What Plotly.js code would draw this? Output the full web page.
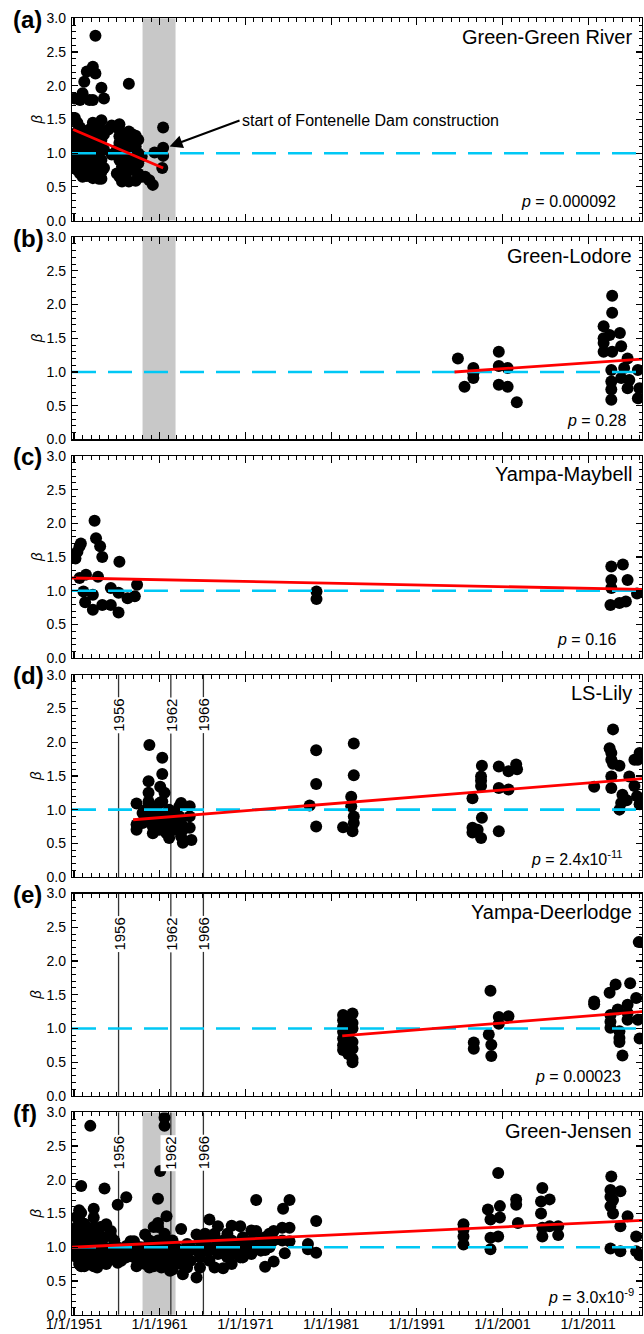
<!DOCTYPE html>
<html>
<head>
<meta charset="utf-8">
<script src="https://cdn.plot.ly/plotly-3.0.1.min.js"></script>
<style>html,body{margin:0;padding:0;background:#fff;}#chart{width:644px;height:1334px;}</style>
</head>
<body>
<div id="chart"></div>
<script>
// ---------------- DATA (decimal year, beta values observed in that year) ----------------
const panelLabels = ['(a)', '(b)', '(c)', '(d)', '(e)', '(f)'];
const siteNames = ['Green-Green River', 'Green-Lodore', 'Yampa-Maybell', 'LS-Lily', 'Yampa-Deerlodge', 'Green-Jensen'];
const pTexts = ['<i>p</i> = 0.000092', '<i>p</i> = 0.28', '<i>p</i> = 0.16',
  '<i>p</i> = 2.4x10<sup>-11</sup>', '<i>p</i> = 0.00023', '<i>p</i> = 3.0x10<sup>-9</sup>'];

const obsA = [
  [1951.1, [1.52, 1.81, 1.18, 1.05, 0.95, 0.80, 0.78, 1.28]],
  [1951.4, [1.12, 0.86, 1.32, 0.75, 1.00, 1.45]],
  [1951.7, [1.79, 1.20, 0.90, 0.70, 1.38]],
  [1952.0, [1.89, 1.15, 0.65, 0.95, 1.30, 0.80]],
  [1952.2, [2.06, 1.05, 0.72]],
  [1952.5, [2.21, 1.22, 0.88, 0.66]],
  [1952.8, [1.79, 1.35, 0.68, 1.00, 1.18]],
  [1953.2, [2.28, 1.79, 1.45, 1.10, 0.85, 0.63, 0.75]],
  [1953.5, [2.74, 2.18, 1.25, 0.95, 0.70]],
  [1953.9, [1.30, 1.02, 0.62, 0.82, 1.15, 1.42]],
  [1954.2, [1.97, 1.49, 1.20, 0.90, 0.62, 0.72]],
  [1954.5, [1.81, 1.28, 1.05, 0.78]],
  [1955.0, [1.35]],
  [1955.4, [1.41, 0.98]],
  [1956.0, [1.38, 0.70, 1.05]],
  [1956.3, [1.43, 1.15, 0.65, 0.90, 1.25]],
  [1956.6, [1.00, 0.58, 0.80, 1.30]],
  [1957.0, [1.20, 0.70, 1.10, 0.95]],
  [1957.4, [2.03, 1.32, 0.58, 0.85, 1.05, 1.25]],
  [1957.8, [1.15, 0.75, 0.95, 1.28]],
  [1958.2, [1.26, 0.59, 0.90, 1.10]],
  [1958.5, [1.20, 0.70, 1.00, 0.85]],
  [1958.9, [0.95, 0.65]],
  [1959.3, [0.65]],
  [1959.8, [0.60]],
  [1960.2, [0.53]],
  [1960.4, [1.01]],
  [1961.3, [0.78]],
  [1961.4, [1.38, 1.08, 0.96]]
];

const obsB = [
  [1995.8, [1.20]], [1996.57, [0.78]], [1997.6, [1.06, 0.98, 0.91]],
  [2000.57, [1.30, 1.09, 0.81]], [2001.6, [1.06, 0.78]], [2002.67, [0.55]],
  [2012.8, [1.68, 1.50, 1.43, 1.30]], [2013.5, [1.55]], [2013.8, [2.13, 1.88, 1.30]],
  [2013.7, [1.03, 0.86, 0.74, 0.59]], [2014.7, [1.58]], [2014.85, [1.38, 0.91]],
  [2015.2, [1.06]], [2015.6, [1.20, 0.76]], [2015.8, [0.88]],
  [2016.8, [1.03, 0.61]], [2016.98, [0.76]]
];

const obsC = [
  [1951.17, [1.48]], [1951.4, [1.58]], [1951.65, [1.66, 1.19]], [1951.8, [1.70]],
  [1952.1, [0.99]], [1952.3, [0.83]], [1952.4, [1.24]],
  [1953.2, [0.72, 0.94]], [1953.4, [2.04]], [1953.57, [1.78]], [1953.8, [1.21]],
  [1954.05, [1.66]], [1954.3, [1.50, 0.79]], [1955.3, [1.04, 0.79]],
  [1956.2, [0.97, 0.68]], [1956.3, [1.43]], [1957.25, [0.89]], [1958.1, [0.92]], [1958.36, [1.09]],
  [1979.3, [0.99, 0.88]],
  [2013.7, [1.36, 1.16, 1.04]], [2013.6, [0.79]], [2014.65, [0.82]], [2015.05, [1.39]],
  [2015.4, [0.84]], [2015.6, [1.16]], [2016.7, [0.96]]
];

const obsD = [
  [1958.3, [1.09, 0.78, 0.70]], [1959.0, [0.95, 0.80]], [1959.4, [0.90, 1.00]],
  [1959.7, [1.42, 1.25, 1.12, 1.05, 0.85]], [1959.8, [1.96]],
  [1960.2, [0.65, 0.95, 0.75]], [1960.6, [0.85, 1.00, 0.70]], [1961.0, [0.70, 0.90, 1.10]],
  [1961.06, [1.34]], [1961.3, [1.77, 1.53, 1.12]], [1961.56, [1.25, 0.80]],
  [1961.8, [0.75, 0.95, 0.65]], [1962.1, [0.58, 0.85, 1.00]], [1962.5, [0.95, 0.78]],
  [1962.7, [0.70, 0.88]], [1963.3, [0.90, 1.05]], [1963.5, [1.10, 0.60, 0.80]],
  [1963.7, [0.51, 0.70]], [1964.5, [1.05, 0.73, 0.90]], [1964.7, [0.55]],
  [1978.5, [1.06]], [1979.26, [1.88, 1.38, 0.75]],
  [1982.4, [0.74]], [1983.35, [1.19, 1.05]], [1983.5, [0.68]], [1983.65, [1.98, 1.51, 0.90, 0.80]],
  [1997.5, [1.17, 0.73, 0.66]], [1998.1, [0.70]], [1998.5, [1.49, 1.43, 1.35, 0.58]], [1998.6, [1.65, 0.88]],
  [2000.57, [1.64, 1.32, 0.68]], [2001.7, [1.57, 1.30]], [2002.6, [1.67]], [2002.7, [1.60]],
  [2011.7, [1.34]], [2013.7, [1.84, 1.74, 1.49, 1.32]], [2013.9, [2.19, 1.68]], [2013.5, [1.91]],
  [2014.65, [1.65, 1.00]], [2014.85, [1.10]], [2015.0, [1.22]], [2015.5, [1.14]],
  [2015.8, [1.49]], [2016.4, [1.74, 1.35]], [2016.7, [1.20]], [2016.8, [1.74]], [2017.0, [1.84, 1.08]]
];

const obsE = [
  [1982.4, [1.20, 1.12, 1.02, 0.95, 0.85, 0.75, 0.68]],
  [1983.0, [1.15, 0.90, 0.62]],
  [1983.5, [1.22, 1.08, 1.00, 0.80, 0.70, 0.55, 0.50]],
  [1997.65, [0.79, 0.70]], [1999.4, [0.91]], [1999.6, [1.56]], [1999.7, [0.76, 0.59]],
  [2000.57, [1.17, 1.07]], [2001.7, [1.18]],
  [2011.7, [1.40, 1.36]], [2013.5, [1.53]], [2013.6, [1.20, 1.10, 1.01]], [2014.2, [1.65]],
  [2014.45, [1.28]], [2014.65, [0.96, 0.86, 0.80]], [2015.0, [0.60]],
  [2015.6, [1.35, 1.23, 1.13]], [2015.9, [1.67]], [2016.6, [1.45]], [2016.8, [1.13]],
  [2016.9, [2.28]], [2017.0, [0.85]]
];

const obsF = [
  [1951.0, [0.98, 1.05, 1.20]], [1951.3, [0.85, 1.10, 1.30, 1.45, 1.00]],
  [1951.6, [0.75, 0.95, 1.18, 1.42, 1.55]], [1951.84, [1.91, 1.51, 1.25, 0.90, 0.72]],
  [1952.2, [0.72, 1.05, 1.35, 0.85]], [1952.5, [0.80, 1.15, 1.00, 1.28]],
  [1952.9, [2.80, 0.95, 0.75, 1.20]], [1953.3, [1.57, 1.44, 0.72, 1.10, 0.90, 1.30]],
  [1953.7, [1.20, 0.85, 1.00, 0.70]], [1954.1, [1.30, 0.95, 0.80, 1.12]],
  [1954.56, [1.87, 1.15, 0.85, 1.00]], [1954.76, [1.34, 0.75]],
  [1955.3, [1.24, 1.17, 0.95, 0.82]], [1955.7, [1.05, 0.88, 1.10]],
  [1956.1, [1.63, 0.77, 1.00, 0.90]], [1956.5, [0.80, 0.95]],
  [1957.1, [1.74, 0.85, 1.02]], [1957.6, [1.09, 0.95, 0.90]], [1958.0, [1.09, 0.85]],
  [1958.3, [0.72, 0.92]], [1958.8, [1.00, 0.80, 0.90]], [1959.3, [1.19, 0.85, 0.95, 0.75]],
  [1959.8, [0.70, 1.00, 1.10, 0.88]], [1960.3, [1.30, 0.95, 0.80, 0.72]],
  [1960.8, [1.72, 1.36, 1.30, 1.10, 0.85, 0.95]], [1961.06, [2.13, 1.00, 0.78]],
  [1961.2, [0.70, 0.90]], [1961.56, [2.92, 2.80, 1.20, 0.95]], [1961.8, [1.46, 1.05, 0.85]],
  [1962.2, [0.75, 0.95, 0.65]], [1962.5, [0.67, 0.88, 1.10]], [1962.9, [0.80, 1.00]],
  [1963.5, [1.27, 0.95, 0.75]], [1963.7, [0.60, 0.85]], [1964.2, [0.90, 1.05, 0.70]],
  [1964.6, [1.00, 0.80]], [1965.3, [1.19, 0.55, 0.95]], [1965.7, [1.10, 0.85, 0.70]],
  [1966.3, [1.20, 0.95, 1.05]], [1966.8, [1.41, 1.15, 0.80, 0.95]],
  [1967.4, [0.70, 1.00, 1.20]], [1967.8, [1.31, 0.90, 1.05]], [1968.4, [0.69, 0.95, 1.10]],
  [1968.9, [1.00, 0.85, 1.20]], [1969.4, [1.32, 0.75, 0.95, 1.10]], [1970.0, [0.90, 1.05]],
  [1970.4, [1.31, 0.85, 1.00]], [1970.7, [0.85, 1.15]], [1971.2, [0.95, 1.05]],
  [1971.7, [1.25, 1.10, 0.90]], [1972.26, [1.70, 1.24, 1.00]], [1972.8, [0.95, 1.10]],
  [1973.3, [0.96, 0.71, 1.15]], [1973.8, [1.00, 1.20]], [1974.3, [1.24, 0.79, 1.10]],
  [1975.3, [1.29, 1.10]], [1975.4, [1.57]], [1975.6, [0.91]], [1976.15, [1.70, 1.29, 1.09]],
  [1978.3, [1.05, 0.97]], [1979.26, [1.39, 0.92]],
  [1996.45, [1.34, 1.26, 1.16, 1.04]], [1999.3, [1.56]], [1999.6, [1.41, 1.14, 0.97]],
  [2000.5, [2.10, 1.16]], [2000.7, [1.61, 1.44]], [2002.6, [1.71, 1.63]], [2002.8, [1.36]],
  [2005.5, [1.68, 1.50]], [2005.65, [1.88, 1.29, 1.16]], [2006.5, [1.71, 1.31]],
  [2007.5, [1.31, 1.18]], [2013.6, [1.85, 1.75, 1.61, 0.98]], [2013.7, [2.05]],
  [2013.9, [1.70, 1.50]], [2014.76, [1.83, 1.31, 0.94]], [2015.6, [1.46]],
  [2016.6, [1.16, 0.94]], [2017.0, [0.88]]
];

// fitted trend lines (start/end year and beta)
const trendYears = [[1950.9, 1961.4], [1995.4, 2017.3], [1950.7, 2017.3], [1957.9, 2017.3], [1982.3, 2017.3], [1950.7, 2017.3]];
const trendBeta  = [[1.35, 0.78], [1.00, 1.19], [1.19, 1.02], [0.85, 1.46], [0.89, 1.25], [1.00, 1.40]];

const refBeta = 1.0;                         // dashed reference level
const damPeriod = [1959.0, 1962.85];         // shaded construction period
const shadedPanels = [0, 1, 5];
const markerYears = [1956.2, 1962.3, 1966.1];
const markerYearLabels = ['1956', '1962', '1966'];
const markerPanels = [3, 4, 5];
const xRange = [1950.767, 2017.28];
const yRange = [0, 3];
const arrowTarget = [1962.15, 1.10];
const arrowText = 'start of Fontenelle Dam construction';

// ---------------- helpers ----------------
function dy(v) {
  const y = Math.floor(v), f = v - y;
  const s = Date.UTC(y, 0, 1), e = Date.UTC(y + 1, 0, 1);
  return new Date(s + f * (e - s)).toISOString().slice(0, 19).replace('T', ' ');
}
function expand(obs) {
  const x = [], y = [];
  obs.forEach(([yr, vals]) => vals.forEach(v => { x.push(dy(yr)); y.push(v); }));
  return { x, y };
}

const FONT = 'Liberation Sans, Arial, Helvetica, sans-serif';
const allObs = [obsA, obsB, obsC, obsD, obsE, obsF];
const H = 1334, MT = 18, MB = 18.5, PLOT_H = H - MT - MB;
const TOP0 = 18.3, PANEL_H = 202.4, STEP = 218.9;

const data = [], shapes = [], annotations = [];
const layout = {
  width: 644, height: 1334,
  margin: { l: 72, r: 2, t: MT, b: MB },
  paper_bgcolor: '#fff', plot_bgcolor: '#fff',
  showlegend: false,
  font: { family: FONT, color: '#000', size: 14 }
};

for (let i = 0; i < 6; i++) {
  const sfx = i === 0 ? '' : String(i + 1);
  const xa = 'x' + sfx, ya = 'y' + sfx;
  const top = TOP0 + i * STEP, bot = top + PANEL_H;
  const d0 = Math.max(0, 1 - (bot - MT) / PLOT_H), d1 = Math.min(1, 1 - (top - MT) / PLOT_H);

  layout['xaxis' + sfx] = {
    type: 'date', range: [dy(xRange[0]), dy(xRange[1])], anchor: ya,
    showline: true, linecolor: '#000', linewidth: 1.2, mirror: 'allticks',
    ticks: 'inside', ticklen: 7, tickwidth: 1.2, tickcolor: '#000',
    tick0: '1951-01-01', dtick: 'M120', tickformat: '%-m/%-d/%Y',
    minor: { ticks: 'inside', dtick: 'M12', tick0: '1951-01-01', ticklen: 4, tickwidth: 1, tickcolor: '#000' },
    showticklabels: i === 5, tickfont: { size: 14.5, family: FONT }, ticklabelstandoff: -4,
    showgrid: false, zeroline: false, fixedrange: true
  };
  if (i > 0) layout['xaxis' + sfx].matches = 'x';
  layout['yaxis' + sfx] = {
    domain: [d0, d1], range: yRange, anchor: xa,
    showline: true, linecolor: '#000', linewidth: 1.2, mirror: 'allticks',
    ticks: 'inside', ticklen: 6, tickwidth: 1.2, tickcolor: '#000',
    tick0: 0, dtick: 0.5, tickformat: '.1f',
    minor: { ticks: 'inside', dtick: 0.1, ticklen: 3.5, tickwidth: 1, tickcolor: '#000' },
    tickfont: { size: 14, family: FONT }, ticklabelstandoff: 2,
    showgrid: false, zeroline: false, fixedrange: true
  };

  const pts = expand(allObs[i]);
  data.push({ type: 'scatter', mode: 'markers', x: pts.x, y: pts.y, xaxis: xa, yaxis: ya,
    marker: { color: '#000', size: 12, line: { width: 0 } }, hoverinfo: 'skip' });
  data.push({ type: 'scatter', mode: 'lines', x: [dy(xRange[0]), dy(xRange[1])], y: [refBeta, refBeta],
    xaxis: xa, yaxis: ya, line: { color: '#00c8f5', width: 2.6, dash: '24px,12px' }, hoverinfo: 'skip' });
  data.push({ type: 'scatter', mode: 'lines', x: trendYears[i].map(dy), y: trendBeta[i],
    xaxis: xa, yaxis: ya, line: { color: '#ff0000', width: 2.8 }, hoverinfo: 'skip' });

  if (shadedPanels.includes(i)) {
    shapes.push({ type: 'rect', xref: xa, yref: ya + ' domain', x0: dy(damPeriod[0]), x1: dy(damPeriod[1]),
      y0: 0, y1: 1, fillcolor: '#c8c8c8', line: { width: 0 }, layer: 'below' });
  }
  if (markerPanels.includes(i)) {
    markerYears.forEach((my, k) => {
      shapes.push({ type: 'line', xref: xa, yref: ya + ' domain', x0: dy(my), x1: dy(my), y0: 0, y1: 1,
        line: { color: '#333', width: 1.3 }, layer: 'below' });
      annotations.push({ xref: xa, yref: ya, x: dy(my), y: 2.4, text: markerYearLabels[k], textangle: -90,
        showarrow: false, bgcolor: '#fff', borderpad: 1, font: { size: 15, family: FONT } });
    });
  }

  annotations.push({ xref: 'paper', yref: ya + ' domain', x: (11 - 72) / 570, y: 1, xanchor: 'left', yanchor: 'middle',
    yshift: -1, text: '<b>' + panelLabels[i] + '</b>', showarrow: false, font: { size: 24, family: FONT } });
  annotations.push({ xref: xa + ' domain', yref: ya + ' domain', x: 1, y: 1 - 18.4 / PANEL_H, xanchor: 'right', yanchor: 'middle',
    xshift: -8.5, text: siteNames[i], showarrow: false, font: { size: 20, family: FONT } });
  const pRight = [618, 628, 618, 625, 623, 636][i];
  annotations.push({ xref: xa + ' domain', yref: ya + ' domain', x: 1, y: 19 / PANEL_H, xanchor: 'right', yanchor: 'middle',
    xshift: pRight - 642, text: pTexts[i], showarrow: false, font: { size: 16, family: FONT } });
  annotations.push({ xref: 'paper', yref: ya + ' domain', x: (36 - 72) / 570, y: 0.5, xanchor: 'center', yanchor: 'middle',
    text: '<i>β</i>', textangle: -90, showarrow: false, font: { size: 15, family: FONT } });
}

annotations.push({ xref: 'x', yref: 'y', x: dy(arrowTarget[0]), y: arrowTarget[1], ax: 70, ay: -26,
  text: arrowText, xanchor: 'left', showarrow: true, arrowhead: 2, arrowsize: 1.3, arrowwidth: 2,
  arrowcolor: '#000', standoff: 0, font: { size: 16, family: FONT } });

layout.shapes = shapes;
layout.annotations = annotations;

Plotly.newPlot('chart', data, layout, { displayModeBar: false, staticPlot: true });
</script>
</body>
</html>
